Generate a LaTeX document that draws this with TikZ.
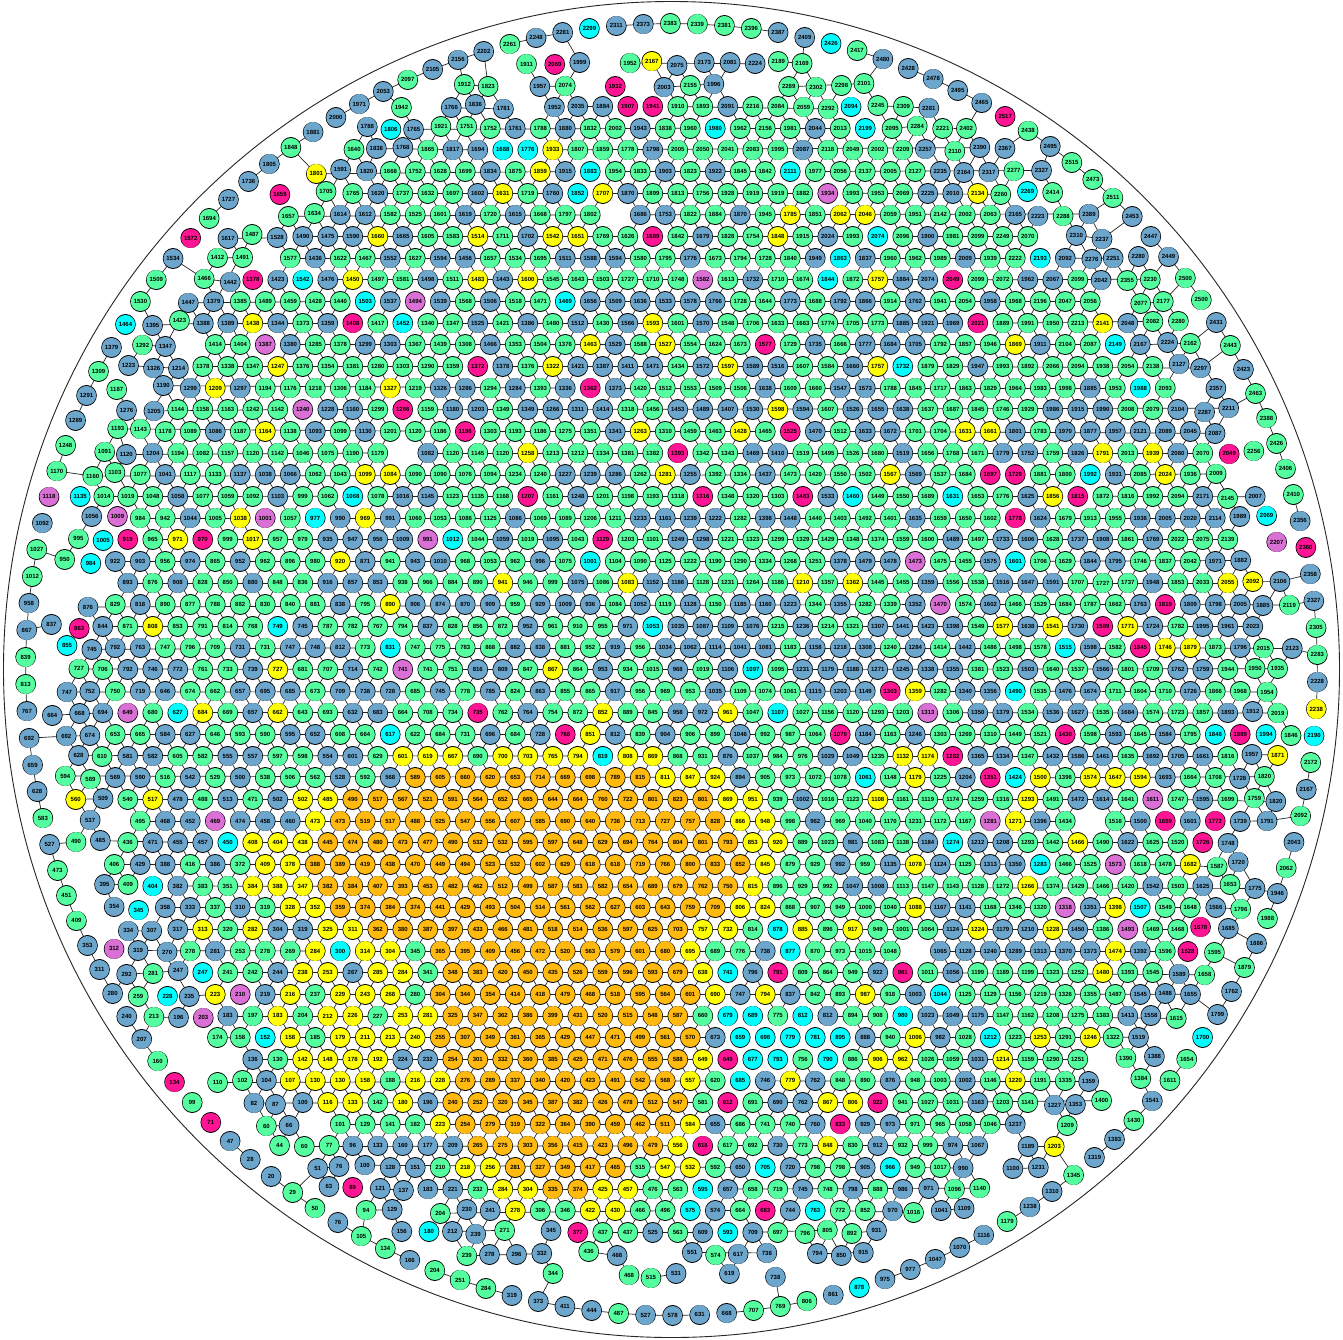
\documentclass[tikz,border=0pt]{standalone}
\usepackage{fontspec}
\setmainfont{Liberation Sans}
\definecolor{cOrange}{HTML}{FFB90F}
\definecolor{cYellow}{HTML}{FFFF00}
\definecolor{cGreen}{HTML}{54FF9F}
\definecolor{cBlue}{HTML}{6CA6CD}
\definecolor{cCyan}{HTML}{00FFFF}
\definecolor{cPink}{HTML}{FF1493}
\definecolor{cOrchid}{HTML}{DA70D6}
\pgfdeclarelayer{bglayer}
\pgfdeclarelayer{edgelayer}
\pgfdeclarelayer{dotlayer}
\pgfsetlayers{bglayer,edgelayer,dotlayer,main}
\tikzset{
  vert/.style={circle, minimum size=20pt, inner sep=0pt,
    font=\fontsize{6}{6}\selectfont\bfseries},
  eline/.style={draw=black!85, line width=0.7pt},
  ring/.style={draw=black, line width=20.6pt, line cap=round},
  disc/.style={line width=19.2pt, line cap=round},
  rimline/.style={draw=black!85, line width=0.9pt}
}
\newcount\hc
\newif\ifedge
\newcommand\gT[2]{\ifcsname T/#1/#2\endcsname\csname T/#1/#2\endcsname\else0\fi}
\newcommand\setcol[2]{\def\col{#1}\def\kd{#2}}
\newcommand\hashdrop[2]{%
  \hc=\numexpr(#1)*17\relax
  \hc=\numexpr\hc-(\hc/100)*100\relax
  \ifnum\hc<-#2 \edgefalse\fi}
\newcommand\testedge[4]{%
  \edgefalse
  \edef\tyA{\gT{#1}{#2}}\edef\tyB{\gT{#3}{#4}}%
  \ifodd\tyA\relax
   \ifodd\tyB\relax
    \edgetrue
    \ifnum\numexpr\tyA+\tyB\relax>2
      \hashdrop{#1*73+#2*151+#3*37+#4*97}{35}%
    \fi
   \fi
  \fi}
\newcommand\dorun[2]{%
  \edef\nR{\number\numexpr\pR+#2\relax}\edef\nQ{\number\numexpr\pQ+#1\relax}%
  \testedge{\pR}{\pQ}{\nR}{\nQ}%
  \ifedge
    \edef\bR{\number\numexpr\pR-#2\relax}\edef\bQ{\number\numexpr\pQ-#1\relax}%
    \testedge{\bR}{\bQ}{\pR}{\pQ}%
    \ifedge\else
      \edef\eR{\nR}\edef\eQ{\nQ}%
      \loop
        \edef\fR{\number\numexpr\eR+#2\relax}\edef\fQ{\number\numexpr\eQ+#1\relax}%
        \testedge{\eR}{\eQ}{\fR}{\fQ}%
      \ifedge
        \edef\eR{\fR}\edef\eQ{\fQ}%
      \repeat
      \draw[eline] (v\pR x\pQ.center) -- (v\eR x\eQ.center);
    \fi
  \fi}
\newcommand\pickcol[1]{%
  \pgfmathsetmacro\rc{rnd}%
  \pgfmathsetmacro\tA{#1>560 ? 0.04 : 0.025}%
  \pgfmathsetmacro\tB{#1>560 ? 0.06 : 0.04}%
  \pgfmathsetmacro\tC{#1>560 ? 0.10 : 0.075}%
  \pgfmathsetmacro\tD{#1>560 ? 0.13 : 0.15}%
  \pgfmathsetmacro\tE{#1>560 ? 0.62 : 0.45}%
  \ifdim\rc pt<\tA pt \setcol{cPink}{2}\else
  \ifdim\rc pt<\tB pt \setcol{cOrchid}{2}\else
  \ifdim\rc pt<\tC pt \setcol{cCyan}{2}\else
  \ifdim\rc pt<\tD pt \setcol{cYellow}{1}\else
  \ifdim\rc pt<\tE pt \setcol{cBlue}{1}\else
  \setcol{cGreen}{1}\fi\fi\fi\fi\fi}
\newcommand\resetlists{%
  \gdef\LB{}%
  \foreach \c in {cOrange,cYellow,cGreen,cBlue,cCyan,cPink,cOrchid}{\expandafter\gdef\csname L\c\endcsname{}}}
\newcommand\addlists[1]{%
  \xdef\LB{\LB (#1.center) -- +(0.01,0)}%
  \expandafter\xdef\csname L\col\endcsname{\csname L\col\endcsname\space(#1.center) -- +(0.01,0)}}
\newcommand\emitlists{%
  \begin{pgfonlayer}{dotlayer}
  \ifx\LB\empty\else\edef\dotpath{\noexpand\path[ring] \LB;}\dotpath\fi
  \foreach \c in {cOrange,cYellow,cGreen,cBlue,cCyan,cPink,cOrchid}{%
    \expandafter\ifx\csname L\c\endcsname\empty\else
      \edef\dotpath{\noexpand\path[disc,draw=\c] \csname L\c\endcsname;}\dotpath
    \fi}
  \end{pgfonlayer}}
\begin{document}
\begin{tikzpicture}[x=1pt,y=-1pt]
\useasboundingbox (0,0) rectangle (1343,1339);
\begin{pgfonlayer}{bglayer}
\fill[white] (0,0) rectangle (1343,1339);
\end{pgfonlayer}
\draw[rimline] (671.5,669.5) circle[radius=668pt];
\pgfmathsetseed{4711}
% ---------- lattice nodes ----------
\foreach \i in {0,...,62}{
 \resetlists
 \foreach \j in {0,...,54}{
  \ifodd\i \def\off{12.5}\edef\hq{\number\numexpr\j-(\i-1)/2+40\relax}%
  \else\def\off{0}\edef\hq{\number\numexpr\j-\i/2+40\relax}\fi
  \pgfmathsetmacro\px{671.5+(\j-27)*25+\off-6.25}
  \pgfmathsetmacro\py{669.5+(\i-31)*21.65}
  \pgfmathsetmacro\dd{veclen(\px-671.5,\py-669.5)}
  \xdef\curT{0}
  \ifdim\dd pt<624pt
    \pgfmathsetmacro\ra{rnd}
    \pgfmathsetmacro\hp{\dd>575 ? 0.12 : 0.004}
    \ifdim\ra pt>\hp pt
      \pgfmathsetmacro\ua{(\px-525)/225}
      \pgfmathsetmacro\va{(\py-860)/100}
      \pgfmathsetmacro\ub{(\px-565)/130}
      \pgfmathsetmacro\vb{(\py-1030)/160}
      \pgfmathsetmacro\eo{min(\ua*\ua+\va*\va,\ub*\ub+\vb*\vb)}
      \pgfmathsetmacro\uc{(\px-380)/115}
      \pgfmathsetmacro\vc{(\py-1025)/95}
      \pgfmathsetmacro\ey{\uc*\uc+\vc*\vc}
      \pgfmathsetmacro\cy{veclen(\px-765,\py-1005)}
      \pgfmathsetmacro\rb{rnd}
      \pickcol{\dd}
      \ifdim\cy pt<85pt \ifdim\rb pt<0.55pt \setcol{cCyan}{2}\fi\fi
      \ifdim\ey pt<1pt \ifdim\rb pt<0.7pt \setcol{cYellow}{1}\fi\fi
      \ifdim\eo pt<1.45pt \ifdim\rb pt<0.65pt \setcol{cYellow}{1}\fi\fi
      \ifdim\eo pt<1pt \setcol{cOrange}{1}\fi
      \pgfmathsetmacro\jx{\dd>575 ? 5*(rnd-0.5) : 0}
      \pgfmathsetmacro\jy{\dd>575 ? 5*(rnd-0.5) : 0}
      \pgfmathsetmacro\dl{veclen(\px-250,\py-1200)}
      \pgfmathsetmacro\tt{min(1,(\dl+1)/1320)*(0.9+0.1*rnd)}
      \pgfmathtruncatemacro\lab{max(1,2500*\tt^1.3)}
      \ifnum\kd=2 \xdef\curT{2}\else
        \ifdim\dd pt>575pt \xdef\curT{3}\else\xdef\curT{1}\fi
      \fi
      \node[vert] (v\i x\hq) at (\px+\jx,\py+\jy) {\lab};
      \addlists{v\i x\hq}
    \fi
  \fi
  \expandafter\xdef\csname T/\i/\hq\endcsname{\curT}
 }
 \emitlists
}
% ---------- outer ring of nodes ----------
\resetlists
\foreach \k in {0,...,149}{
  \pgfmathsetmacro\ang{\k*2.4+1.1}
  \pgfmathsetmacro\px{671.5+646*cos(\ang)}
  \pgfmathsetmacro\py{669.5+646*sin(\ang)}
  \pickcol{646}
  \pgfmathsetmacro\dl{veclen(\px-250,\py-1200)}
  \pgfmathsetmacro\tt{min(1,(\dl+1)/1320)*(0.95+0.05*rnd)}
  \pgfmathsetmacro\base{2500*\tt^1.3}
  \pgfmathtruncatemacro\lab{max(1,\base+(2540-\base)*0.5*max(0,cos(\ang+45)))}
  \expandafter\xdef\csname R/\k\endcsname{\kd}
  \node[vert] (w\k) at (\px,\py) {\lab};
  \addlists{w\k}
}
\emitlists
% ---------- connectors ----------
\begin{pgfonlayer}{edgelayer}
\foreach \i in {0,...,62}{
 \foreach \j in {0,...,54}{
  \ifodd\i \edef\pQ{\number\numexpr\j-(\i-1)/2+40\relax}%
  \else\edef\pQ{\number\numexpr\j-\i/2+40\relax}\fi
  \edef\pR{\i}%
  \ifodd\gT{\pR}{\pQ}\relax
    \dorun{1}{0}%
    \dorun{0}{1}%
    \dorun{-1}{1}%
  \fi
 }
}
\foreach \k in {0,...,149}{
  \edef\kn{\number\numexpr\k+1\relax}%
  \ifnum\kn=150 \def\kn{0}\fi
  \edef\tyA{\csname R/\k\endcsname}\edef\tyB{\csname R/\kn\endcsname}%
  \ifnum\tyA=1
    \ifnum\tyB=1
      \edgetrue\hashdrop{\k*131+7}{30}%
      \ifedge\draw[eline] (w\k.center) -- (w\kn.center);\fi
    \fi
    \pgfmathsetmacro\ang{\k*2.4+1.1}
    \pgfmathsetmacro\ix{671.5+622*cos(\ang)}
    \pgfmathsetmacro\iy{669.5+622*sin(\ang)}
    \pgfmathtruncatemacro\ii{round((\iy-669.5)/21.65+31)}
    \ifodd\ii \def\off{12.5}\else\def\off{0}\fi
    \pgfmathtruncatemacro\jj{round((\ix-671.5+6.25-\off)/25+27)}
    \ifodd\ii \edef\qq{\number\numexpr\jj-(\ii-1)/2+40\relax}%
    \else\edef\qq{\number\numexpr\jj-\ii/2+40\relax}\fi
    \ifodd\gT{\ii}{\qq}\relax
      \edgetrue\hashdrop{\k*57+3}{10}%
      \ifedge\draw[eline] (w\k.center) -- (v\ii x\qq.center);\fi
    \fi
  \fi
}
\end{pgfonlayer}
\end{tikzpicture}
\end{document}
